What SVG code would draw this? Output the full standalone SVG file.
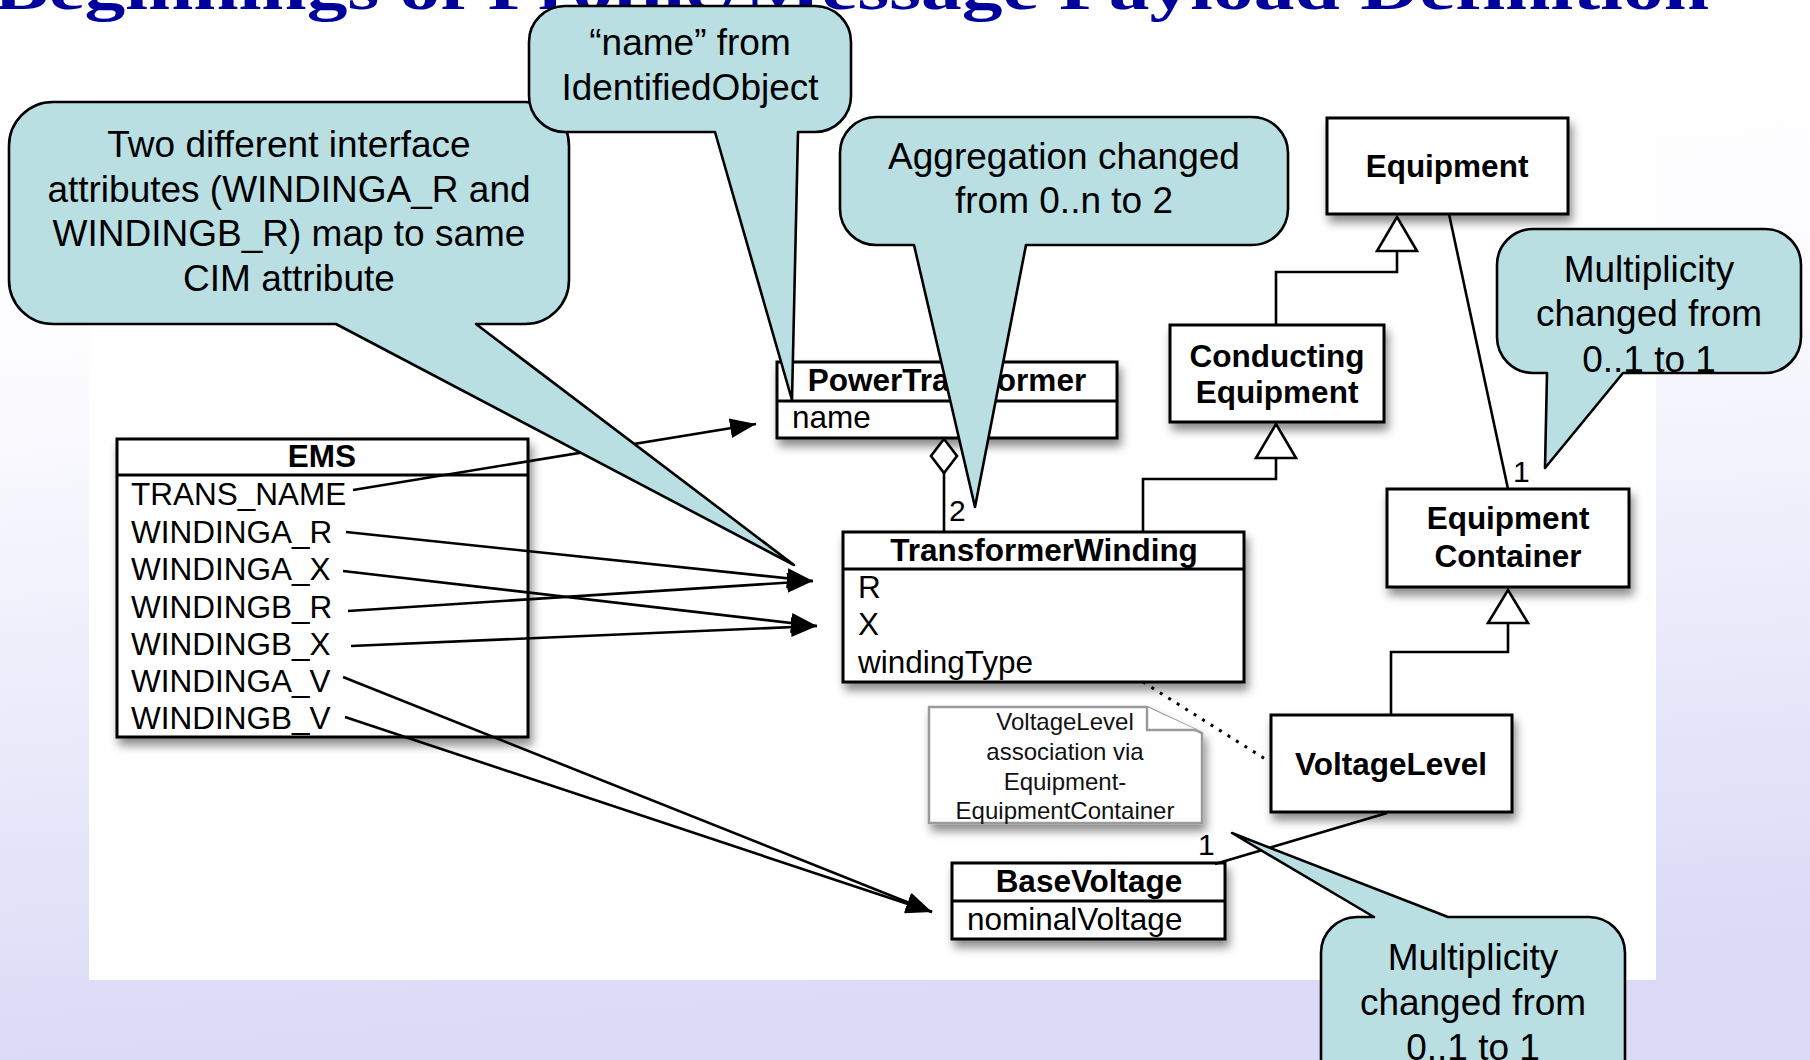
<svg xmlns="http://www.w3.org/2000/svg" width="1810" height="1060" viewBox="0 0 1810 1060">
  <defs>
    <linearGradient id="slideBg" x1="0" y1="0" x2="0.12" y2="1">
      <stop offset="0" stop-color="#ffffff"/>
      <stop offset="0.33" stop-color="#fdfdff"/>
      <stop offset="1" stop-color="#dadaf7"/>
    </linearGradient>
    <filter id="boxShadow" x="-10%" y="-15%" width="125%" height="150%">
      <feDropShadow dx="3" dy="7" stdDeviation="5" flood-color="#000" flood-opacity="0.45"/>
    </filter>
    <marker id="arrowHead" markerUnits="userSpaceOnUse" viewBox="0 0 28 22" markerWidth="28" markerHeight="22" refX="26" refY="10" orient="auto">
      <path d="M0,0 L26,10 L0,20 Z" fill="#000"/>
    </marker>
  </defs>
  <style>
    .box { fill: #ffffff; stroke: #000; stroke-width: 3; }
    .sep { stroke: #000; stroke-width: 3; }
    .cls { font-family: "Liberation Sans", Arial, sans-serif; font-weight: bold; font-size: 31.5px; fill: #000; text-anchor: middle; }
    .attr { font-family: "Liberation Sans", Arial, sans-serif; font-size: 31.5px; fill: #000; }
    .mult { font-family: "Liberation Sans", Arial, sans-serif; font-size: 30px; fill: #000; }
    .link { fill: none; stroke: #000; stroke-width: 2.6; }
    .map { fill: none; stroke: #000; stroke-width: 2.6; marker-end: url(#arrowHead); }
    .gen { fill: #fff; stroke: #000; stroke-width: 2.6; }
    .note { fill: #fff; stroke: #9a9a9a; stroke-width: 2.5; }
    .noteText { font-family: "Liberation Sans", Arial, sans-serif; font-size: 24px; fill: #111; text-anchor: middle; }
    .bubble { fill: #b9dfe3; stroke: #000; stroke-width: 2.6; stroke-linejoin: round; }
    .bubbleText { font-family: "Liberation Sans", Arial, sans-serif; font-size: 37px; fill: #000; text-anchor: middle; }
    .title { font-family: "Liberation Serif", "Times New Roman", serif; font-weight: bold; font-size: 62px; fill: #00009c; }
  </style>

  <!-- slide background and white drawing panel -->
  <rect x="0" y="0" width="1810" height="1060" fill="url(#slideBg)"/>
  <rect x="89" y="0" width="1567" height="980" fill="#ffffff"/>

  <!-- slide title, clipped by the top edge -->
  <text class="title" x="-6" y="9" textLength="1715" lengthAdjust="spacingAndGlyphs">Beginnings of Profile/Message Payload Definition</text>

  <!-- UML classes -->
  <g id="ems">
    <rect class="box" x="117" y="439" width="411" height="298" filter="url(#boxShadow)"/>
    <line class="sep" x1="117" y1="475" x2="528" y2="475"/>
    <text class="cls" x="322" y="467">EMS</text>
    <text class="attr" x="131" y="505">TRANS_NAME</text>
    <text class="attr" x="131" y="543">WINDINGA_R</text>
    <text class="attr" x="131" y="580">WINDINGA_X</text>
    <text class="attr" x="131" y="618">WINDINGB_R</text>
    <text class="attr" x="131" y="655">WINDINGB_X</text>
    <text class="attr" x="131" y="692">WINDINGA_V</text>
    <text class="attr" x="131" y="729">WINDINGB_V</text>
  </g>

  <g id="power-transformer">
    <rect class="box" x="777" y="362" width="340" height="76" filter="url(#boxShadow)"/>
    <line class="sep" x1="777" y1="401" x2="1117" y2="401"/>
    <text class="cls" x="947" y="391" font-size="32">PowerTransformer</text>
    <text class="attr" x="792" y="428">name</text>
  </g>

  <g id="transformer-winding">
    <rect class="box" x="843" y="532" width="401" height="150" filter="url(#boxShadow)"/>
    <line class="sep" x1="843" y1="569" x2="1244" y2="569"/>
    <text class="cls" x="1044" y="561" font-size="32">TransformerWinding</text>
    <text class="attr" x="858" y="598">R</text>
    <text class="attr" x="858" y="635">X</text>
    <text class="attr" x="858" y="673">windingType</text>
  </g>

  <g id="base-voltage">
    <rect class="box" x="952" y="863" width="273" height="76" filter="url(#boxShadow)"/>
    <line class="sep" x1="952" y1="901" x2="1225" y2="901"/>
    <text class="cls" x="1089" y="892">BaseVoltage</text>
    <text class="attr" x="967" y="930">nominalVoltage</text>
  </g>

  <g id="voltage-level">
    <rect class="box" x="1271" y="715" width="241" height="97" filter="url(#boxShadow)"/>
    <text class="cls" x="1391" y="775">VoltageLevel</text>
  </g>

  <g id="equipment-container">
    <rect class="box" x="1387" y="489" width="242" height="98" filter="url(#boxShadow)"/>
    <text class="cls" x="1508" y="529">Equipment</text>
    <text class="cls" x="1508" y="567">Container</text>
  </g>

  <g id="equipment">
    <rect class="box" x="1327" y="118" width="241" height="96" filter="url(#boxShadow)"/>
    <text class="cls" x="1447" y="177">Equipment</text>
  </g>

  <g id="conducting-equipment">
    <rect class="box" x="1170" y="325" width="214" height="97" filter="url(#boxShadow)"/>
    <text class="cls" x="1277" y="367">Conducting</text>
    <text class="cls" x="1277" y="403">Equipment</text>
  </g>

  <g id="voltage-level-note">
    <path class="note" d="M929,707 H1147 L1202,733 V823 H929 Z" filter="url(#boxShadow)"/>
    <path class="note" d="M1147,707 V730 H1197" fill="none"/>
    <text class="noteText" x="1065" y="730">VoltageLevel</text>
    <text class="noteText" x="1065" y="760">association via</text>
    <text class="noteText" x="1065" y="790">Equipment-</text>
    <text class="noteText" x="1065" y="819">EquipmentContainer</text>
  </g>

  <!-- connectors -->
  <g id="connectors">
    <!-- EMS attribute mappings -->
    <line class="map" x1="353" y1="490" x2="756" y2="424"/>
    <line class="map" x1="346" y1="532" x2="813" y2="581"/>
    <line class="map" x1="343" y1="571" x2="817" y2="626"/>
    <line class="map" x1="348" y1="611" x2="813" y2="581"/>
    <line class="map" x1="351" y1="646" x2="817" y2="626"/>
    <line class="map" x1="343" y1="677" x2="932" y2="912"/>
    <line class="map" x1="345" y1="717" x2="932" y2="912"/>

    <!-- aggregation PowerTransformer <>- TransformerWinding -->
    <line class="link" x1="944" y1="473" x2="944" y2="532"/>
    <path class="gen" d="M944,439 L957,456 L944,473 L931,456 Z"/>
    <text class="mult" x="949" y="521">2</text>

    <!-- generalization TransformerWinding -> ConductingEquipment -->
    <polyline class="link" points="1143,532 1143,479 1276,479 1276,458"/>
    <path class="gen" d="M1276,424 L1296,458 L1256,458 Z"/>

    <!-- generalization ConductingEquipment -> Equipment -->
    <polyline class="link" points="1276,325 1276,272 1397,272 1397,251"/>
    <path class="gen" d="M1397,217 L1417,251 L1377,251 Z"/>

    <!-- association Equipment - EquipmentContainer -->
    <line class="link" x1="1449" y1="214" x2="1508" y2="489"/>
    <text class="mult" x="1513" y="482">1</text>

    <!-- generalization VoltageLevel -> EquipmentContainer -->
    <polyline class="link" points="1391,715 1391,652 1508,652 1508,623"/>
    <path class="gen" d="M1508,590 L1528,623 L1488,623 Z"/>

    <!-- association BaseVoltage - VoltageLevel -->
    <line class="link" x1="1215" y1="864" x2="1387" y2="813"/>
    <text class="mult" x="1198" y="855">1</text>

    <!-- note anchor -->
    <line x1="1143" y1="682" x2="1270" y2="762" stroke="#000" stroke-width="3" stroke-dasharray="3 7"/>
  </g>

  <!-- callouts -->
  <g id="callout-interface-attributes">
    <path class="bubble" d="M53,102 H525 A44,44 0 0 1 569,146 V280 A44,44 0 0 1 525,324 H476 L794,565 L336,324 H53 A44,44 0 0 1 9,280 V146 A44,44 0 0 1 53,102 Z"/>
    <text class="bubbleText" x="289" y="157">Two different interface</text>
    <text class="bubbleText" x="289" y="202">attributes (WINDINGA_R and</text>
    <text class="bubbleText" x="289" y="246">WINDINGB_R) map to same</text>
    <text class="bubbleText" x="289" y="291">CIM attribute</text>
  </g>

  <g id="callout-aggregation">
    <path class="bubble" d="M876,117 H1252 A36,36 0 0 1 1288,153 V209 A36,36 0 0 1 1252,245 H1026 L975,507 L914,245 H876 A36,36 0 0 1 840,209 V153 A36,36 0 0 1 876,117 Z"/>
    <text class="bubbleText" x="1064" y="169">Aggregation changed</text>
    <text class="bubbleText" x="1064" y="213">from 0..n to 2</text>
  </g>

  <g id="callout-container-multiplicity">
    <path class="bubble" d="M1533,229 H1765 A36,36 0 0 1 1801,265 V337 A36,36 0 0 1 1765,373 H1623 L1545,468 L1547,373 H1533 A36,36 0 0 1 1497,337 V265 A36,36 0 0 1 1533,229 Z"/>
    <text class="bubbleText" x="1649" y="282">Multiplicity</text>
    <text class="bubbleText" x="1649" y="326">changed from</text>
    <text class="bubbleText" x="1649" y="372">0..1 to 1</text>
  </g>

  <g id="callout-voltage-multiplicity">
    <path class="bubble" d="M1357,917 H1374 L1232,833 L1448,917 H1589 A36,36 0 0 1 1625,953 V1100 H1321 V953 A36,36 0 0 1 1357,917 Z"/>
    <text class="bubbleText" x="1473" y="970">Multiplicity</text>
    <text class="bubbleText" x="1473" y="1015">changed from</text>
    <text class="bubbleText" x="1473" y="1060">0..1 to 1</text>
  </g>

  <g id="callout-name">
    <path class="bubble" d="M565,6 H815 A36,36 0 0 1 851,42 V96 A36,36 0 0 1 815,132 H798 L792,400 L715,132 H565 A36,36 0 0 1 529,96 V42 A36,36 0 0 1 565,6 Z"/>
    <text class="bubbleText" x="690" y="55">“name” from</text>
    <text class="bubbleText" x="690" y="100">IdentifiedObject</text>
  </g>
</svg>
